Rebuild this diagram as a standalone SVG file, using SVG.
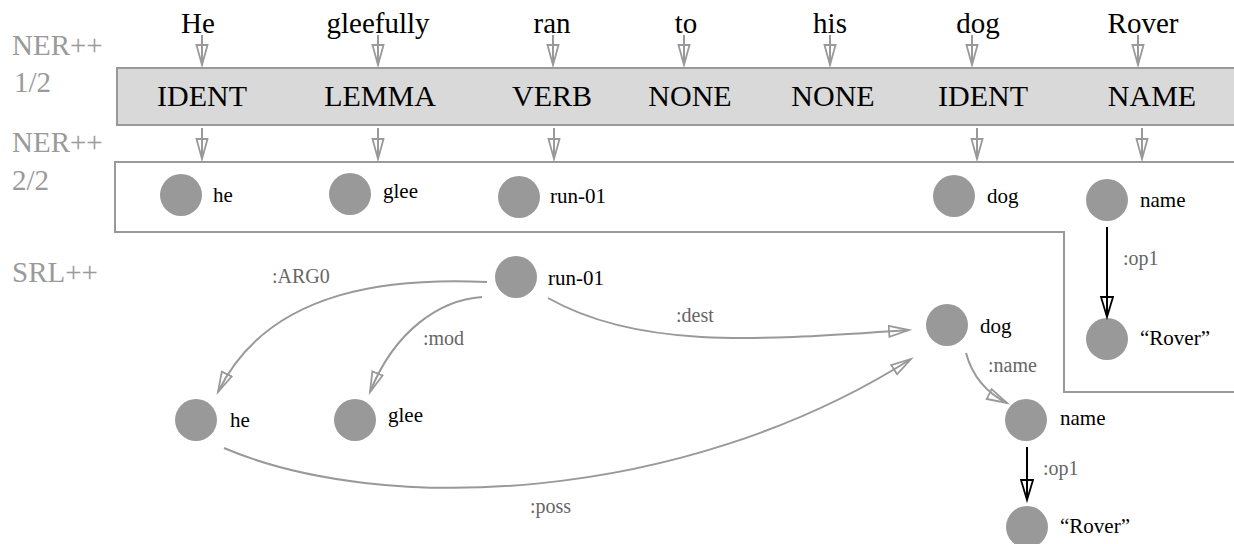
<svg xmlns="http://www.w3.org/2000/svg" width="1234" height="544" viewBox="0 0 1234 544">
<style>
text{font-family:"Liberation Serif","Times New Roman",serif;}
.word{font-size:29px;fill:#000;text-anchor:middle;}
.tag{font-size:30px;fill:#000;text-anchor:middle;}
.side{font-size:29px;fill:#9a9a9a;}
.nl{font-size:21px;fill:#000;}
.el{font-size:20px;fill:#666;}
.node{fill:#999;}
.g{fill:none;stroke:#999;stroke-width:2;}
.k{fill:none;stroke:#000;stroke-width:2;}
</style>
<defs>
<marker id="ag" markerUnits="userSpaceOnUse" markerWidth="24" markerHeight="16" refX="21" refY="7" orient="auto">
<path d="M1,1.5 L21,7 L1,12.5 Z" fill="none" stroke="#999" stroke-width="1.8"/>
</marker>
<marker id="ak" markerUnits="userSpaceOnUse" markerWidth="24" markerHeight="16" refX="21" refY="7" orient="auto">
<path d="M1,1 L21,7 L1,13 Z" fill="none" stroke="#000" stroke-width="1.8"/>
</marker>
</defs>

<g id="side-labels">
<text class="side" x="12" y="55">NER++</text>
<text class="side" x="14" y="92">1/2</text>
<text class="side" x="12" y="152">NER++</text>
<text class="side" x="12" y="190">2/2</text>
<text class="side" x="12" y="282">SRL++</text>
</g>

<g id="words">
<text class="word" x="198" y="33">He</text>
<text class="word" x="378" y="33">gleefully</text>
<text class="word" x="552" y="33">ran</text>
<text class="word" x="686" y="33">to</text>
<text class="word" x="830" y="33">his</text>
<text class="word" x="978" y="33">dog</text>
<text class="word" x="1143" y="33">Rover</text>
</g>

<g id="ner1">
<rect x="117" y="68" width="1130" height="57" fill="#d9d9d9" stroke="#999" stroke-width="2"/>
<text class="tag" x="202" y="106">IDENT</text>
<text class="tag" x="380" y="106">LEMMA</text>
<text class="tag" x="552" y="106">VERB</text>
<text class="tag" x="690" y="106">NONE</text>
<text class="tag" x="833" y="106">NONE</text>
<text class="tag" x="983" y="106">IDENT</text>
<text class="tag" x="1152" y="106">NAME</text>
</g>

<g id="ner2-box">
<path d="M1245,162 H115 V232 H1064 V392 H1245" fill="none" stroke="#999" stroke-width="2"/>
</g>

<g id="ner2-he"><circle class="node" cx="181" cy="195" r="21"/><text class="nl" x="213" y="202">he</text></g>
<g id="ner2-glee"><circle class="node" cx="350" cy="194" r="21"/><text class="nl" x="383" y="198">glee</text></g>
<g id="ner2-run"><circle class="node" cx="519" cy="197" r="21"/><text class="nl" x="550" y="203">run-01</text></g>
<g id="ner2-dog"><circle class="node" cx="954" cy="196" r="21"/><text class="nl" x="987" y="203">dog</text></g>
<g id="ner2-name"><circle class="node" cx="1107" cy="200" r="21"/><text class="nl" x="1140" y="207">name</text></g>
<g id="ner2-rover"><circle class="node" cx="1107" cy="339" r="21"/><text class="nl" x="1140" y="345">“Rover”</text></g>

<g id="srl-run"><circle class="node" cx="516" cy="277" r="21"/><text class="nl" x="548" y="285">run-01</text></g>
<g id="srl-he"><circle class="node" cx="196" cy="420" r="21"/><text class="nl" x="230" y="427">he</text></g>
<g id="srl-glee"><circle class="node" cx="355" cy="420" r="21"/><text class="nl" x="388" y="422">glee</text></g>
<g id="srl-dog"><circle class="node" cx="947" cy="325" r="21"/><text class="nl" x="980" y="333">dog</text></g>
<g id="srl-name"><circle class="node" cx="1026" cy="420" r="21"/><text class="nl" x="1060" y="425">name</text></g>
<g id="srl-rover"><circle class="node" cx="1027" cy="527" r="21"/><text class="nl" x="1060" y="533">“Rover”</text></g>

<g id="connectors">
<path class="g" d="M202,35 V65" marker-end="url(#ag)"/>
<path class="g" d="M378,35 V65" marker-end="url(#ag)"/>
<path class="g" d="M553,35 V65" marker-end="url(#ag)"/>
<path class="g" d="M684,35 V65" marker-end="url(#ag)"/>
<path class="g" d="M830,35 V65" marker-end="url(#ag)"/>
<path class="g" d="M972,35 V65" marker-end="url(#ag)"/>
<path class="g" d="M1138,35 V65" marker-end="url(#ag)"/>

<path class="g" d="M202,128 V159" marker-end="url(#ag)"/>
<path class="g" d="M378,128 V159" marker-end="url(#ag)"/>
<path class="g" d="M554,128 V159" marker-end="url(#ag)"/>
<path class="g" d="M977,128 V159" marker-end="url(#ag)"/>
<path class="g" d="M1142,128 V159" marker-end="url(#ag)"/>

<path class="k" d="M1107,227 V317" marker-end="url(#ak)"/>
<path class="k" d="M1027,447 V500" marker-end="url(#ak)"/>

<path class="g" d="M487,282 C400,278 270,285 218,392" marker-end="url(#ag)"/>
<path class="g" d="M482,297 C440,300 395,330 370,392" marker-end="url(#ag)"/>
<path class="g" d="M548,298 C640,350 760,340 909,330" marker-end="url(#ag)"/>
<path class="g" d="M224,448 C380,515 680,505 911,359" marker-end="url(#ag)"/>
<path class="g" d="M966,353 C972,375 985,392 1007,403" marker-end="url(#ag)"/>

<text class="el" x="1123" y="265">:op1</text>
<text class="el" x="1043" y="475">:op1</text>
<text class="el" x="272" y="283">:ARG0</text>
<text class="el" x="423" y="345">:mod</text>
<text class="el" x="676" y="322">:dest</text>
<text class="el" x="530" y="513">:poss</text>
<text class="el" x="988" y="372">:name</text>
</g>
</svg>
